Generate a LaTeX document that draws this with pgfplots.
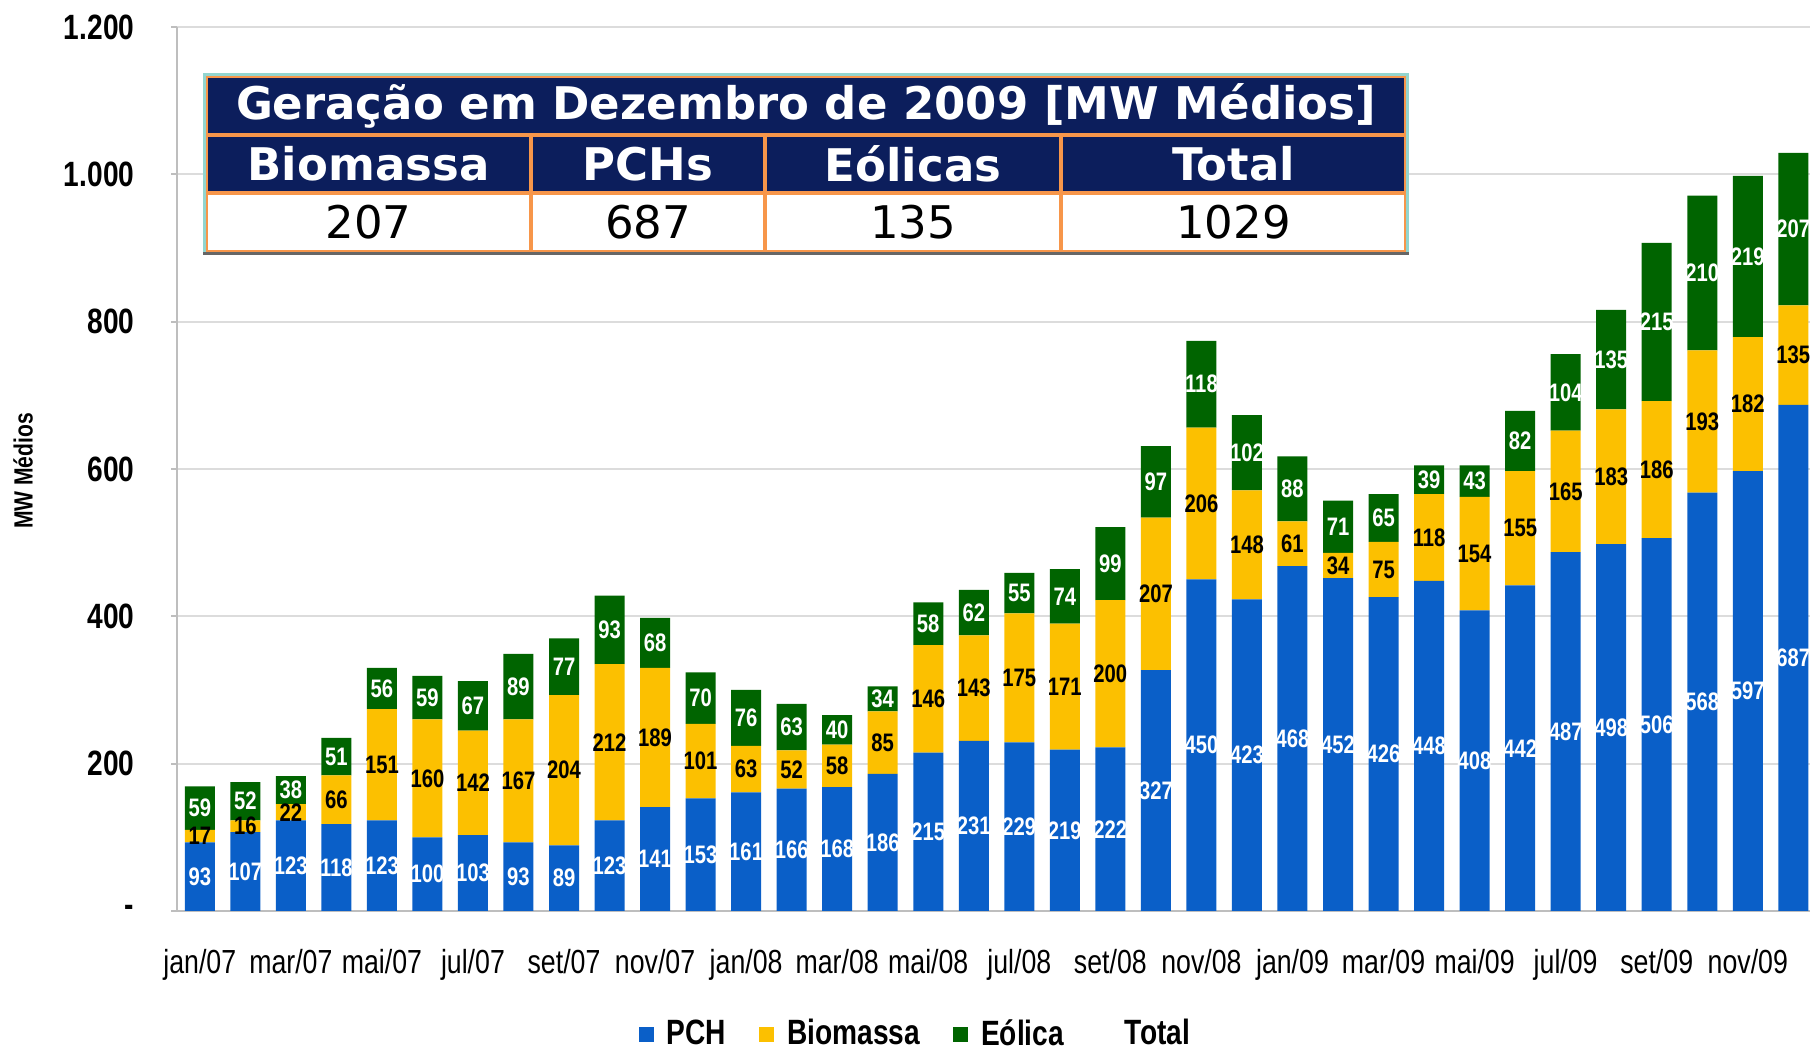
\documentclass[border=0pt]{standalone}
\usepackage{fontspec}
\setmainfont{Liberation Sans}
\newfontfamily\nb[FakeStretch=0.8]{Liberation Sans}
\newfontfamily\dv{DejaVu Sans}
\usepackage{pgfplots}
\usepackage{pgfplotstable}
\pgfplotsset{compat=1.18}
\definecolor{pchblue}{RGB}{10,95,200}
\definecolor{bioyel}{RGB}{252,192,0}
\definecolor{eolgreen}{RGB}{0,100,0}
\definecolor{navy}{RGB}{12,30,92}
\definecolor{tborange}{RGB}{247,150,74}
\definecolor{tbteal}{RGB}{146,213,207}
\definecolor{gridgray}{RGB}{220,220,220}
\definecolor{axgray}{RGB}{190,190,190}

\pgfplotstableread{
x pch bio eol
0 93 17 59
1 107 16 52
2 123 22 38
3 118 66 51
4 123 151 56
5 100 160 59
6 103 142 67
7 93 167 89
8 89 204 77
9 123 212 93
10 141 189 68
11 153 101 70
12 161 63 76
13 166 52 63
14 168 58 40
15 186 85 34
16 215 146 58
17 231 143 62
18 229 175 55
19 219 171 74
20 222 200 99
21 327 207 97
22 450 206 118
23 423 148 102
24 468 61 88
25 452 34 71
26 426 75 65
27 448 118 39
28 408 154 43
29 442 155 82
30 487 165 104
31 498 183 135
32 506 186 215
33 568 193 210
34 597 182 219
35 687 135 207
}\datatable

\begin{document}
\begin{tikzpicture}
\useasboundingbox (0,0) rectangle (181mm,104.9mm);
\begin{axis}[
  at={(17.7mm,13.8mm)}, anchor=south west,
  scale only axis, width=163.45mm, height=88.4mm,
  ybar stacked, bar width=3mm,
  xmin=-0.5, xmax=35.4, ymin=0, ymax=1200,
  axis x line*=bottom, axis y line*=left,
  axis line style={color=axgray, line width=0.2mm},
  ymajorgrids, grid style={color=gridgray, line width=0.2mm},
  ytick={0,200,400,600,800,1000,1200},
  yticklabels={-,200,400,600,800,1.000,1.200},
  xtick={0,2,...,34},
  xticklabels={jan/07,mar/07,mai/07,jul/07,set/07,nov/07,jan/08,mar/08,mai/08,jul/08,set/08,nov/08,jan/09,mar/09,mai/09,jul/09,set/09,nov/09},
  x tick style={draw=none},
  y tick style={color=axgray, line width=0.2mm},
  tick align=outside, major tick length=0.6mm,
  yticklabel style={font=\nb\bfseries\fontsize{10}{12}\selectfont, anchor=east, inner sep=0pt, xshift=-3.6mm},
  xticklabel style={font=\nb\fontsize{9.5}{11}\selectfont, anchor=base, inner sep=0pt, yshift=-5.7mm},
  every node near coord/.append style={anchor=center, font=\nb\bfseries\fontsize{7.2}{8}\selectfont, inner sep=0pt},
  legend style={at={(0.4533,-0.1400)}, anchor=center, legend columns=-1, draw=none, fill=none,
    font=\nb\bfseries\fontsize{10}{12}\selectfont,
    /tikz/every odd column/.append style={column sep=0.6mm},
    /tikz/every even column/.append style={column sep=2.6mm}},
  legend image code/.code={\fill[#1] (0mm,-0.75mm) rectangle (1.5mm,0.75mm);},
]
\addplot[fill=pchblue, draw=none,
  visualization depends on=\thisrow{pch}\as\rawy,
  nodes near coords={\pgfmathprintnumber[assume math mode=true,fixed,precision=0]{\rawy}},
  every node near coord/.append style={text=white}]
  table[x=x,y=pch]{\datatable};
\addlegendentry{PCH}
\addplot[fill=bioyel, draw=none,
  visualization depends on=\thisrow{bio}\as\rawy,
  nodes near coords={\pgfmathprintnumber[assume math mode=true,fixed,precision=0]{\rawy}},
  every node near coord/.append style={text=black}]
  table[x=x,y=bio]{\datatable};
\addlegendentry{Biomassa}
\addplot[fill=eolgreen, draw=none,
  visualization depends on=\thisrow{eol}\as\rawy,
  nodes near coords={\pgfmathprintnumber[assume math mode=true,fixed,precision=0]{\rawy}},
  every node near coord/.append style={text=white}]
  table[x=x,y=eol]{\datatable};
\addlegendentry{Eólica}
\addlegendimage{fill=white, draw=none}
\addlegendentry{Total}
\end{axis}

% y label
\node[rotate=90, font=\nb\bfseries\fontsize{7.5}{9}\selectfont] at (2.3mm,57.8mm) {MW Médios};

% table overlay
\fill[tbteal] (20.3mm,79.4mm) rectangle (140.9mm,97.6mm);
\fill[black!60] (20.3mm,79.4mm) rectangle (140.9mm,79.7mm);
\fill[tborange] (20.6mm,79.7mm) rectangle (140.6mm,97.3mm);
\fill[navy] (20.8mm,91.6mm) rectangle (140.4mm,97.1mm);
\fill[navy] (20.8mm,85.8mm) rectangle (52.9mm,91.2mm);
\fill[navy] (53.3mm,85.8mm) rectangle (76.3mm,91.2mm);
\fill[navy] (76.7mm,85.8mm) rectangle (105.9mm,91.2mm);
\fill[navy] (106.3mm,85.8mm) rectangle (140.4mm,91.2mm);
\fill[white] (20.8mm,79.9mm) rectangle (52.9mm,85.4mm);
\fill[white] (53.3mm,79.9mm) rectangle (76.3mm,85.4mm);
\fill[white] (76.7mm,79.9mm) rectangle (105.9mm,85.4mm);
\fill[white] (106.3mm,79.9mm) rectangle (140.4mm,85.4mm);
\begin{scope}[every node/.style={inner sep=0pt, anchor=center}]
\node[text=white, font=\dv\bfseries\fontsize{12.8}{14}\selectfont] at (80.6mm,94.35mm) {Geração em Dezembro de 2009 [MW Médios]};
\node[text=white, font=\dv\bfseries\fontsize{12.8}{14}\selectfont] at (36.85mm,88.5mm) {Biomassa};
\node[text=white, font=\dv\bfseries\fontsize{12.8}{14}\selectfont] at (64.8mm,88.5mm) {PCHs};
\node[text=white, font=\dv\bfseries\fontsize{12.8}{14}\selectfont] at (91.3mm,88.5mm) {Eólicas};
\node[text=white, font=\dv\bfseries\fontsize{12.8}{14}\selectfont] at (123.35mm,88.5mm) {Total};
\node[text=black, font=\dv\fontsize{12.8}{14}\selectfont] at (36.85mm,82.65mm) {207};
\node[text=black, font=\dv\fontsize{12.8}{14}\selectfont] at (64.8mm,82.65mm) {687};
\node[text=black, font=\dv\fontsize{12.8}{14}\selectfont] at (91.3mm,82.65mm) {135};
\node[text=black, font=\dv\fontsize{12.8}{14}\selectfont] at (123.35mm,82.65mm) {1029};
\end{scope}
\end{tikzpicture}
\end{document}
